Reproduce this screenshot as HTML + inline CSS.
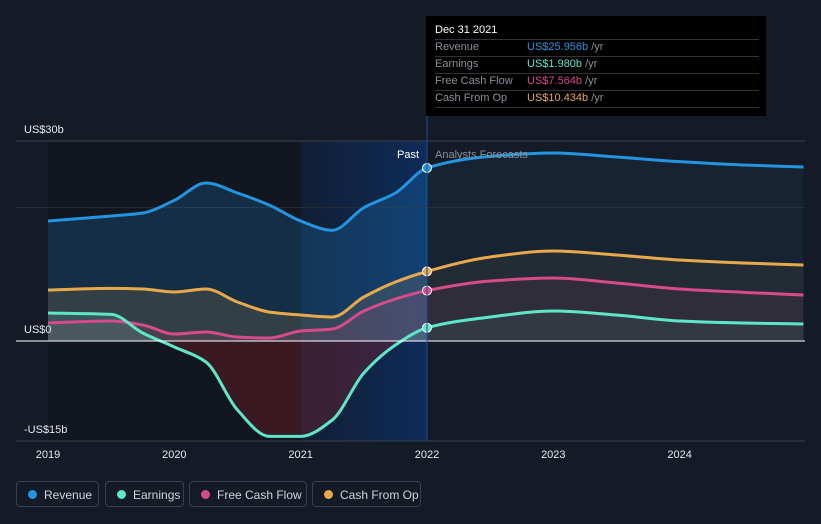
<!DOCTYPE html>
<html><head><meta charset="utf-8"><style>
body{margin:0;background:#151b26;font-family:"Liberation Sans",sans-serif;}
#wrap{position:relative;width:821px;height:524px;overflow:hidden;background:#151b26;}
.leg{position:absolute;top:481px;height:26px;border:1px solid #3a414d;border-radius:4px;color:#d0d4da;font-size:12px;line-height:26px;box-sizing:border-box;padding-left:27px;}
.leg i{position:absolute;left:11px;top:8px;width:9px;height:9px;border-radius:50%;}
#tip{position:absolute;left:426px;top:16px;width:340px;height:100px;background:#000;}
#tip div{position:absolute;left:9px;width:324px;font-size:11px;color:#8a9099;height:17px;line-height:17px;border-bottom:1px solid #333;}
#tip span{position:absolute;left:92px;}
</style></head><body>
<div id="wrap">
<svg id="svg" width="821" height="524" style="position:absolute;left:0;top:0">
<defs>
<linearGradient id="hl" x1="0" x2="1" y1="0" y2="0"><stop offset="0" stop-color="#0e2240" stop-opacity="0.6"/><stop offset="1" stop-color="#0d2d5e" stop-opacity="0.95"/></linearGradient>
<clipPath id="past"><rect x="0" y="0" width="427" height="524"/></clipPath>
<clipPath id="fut"><rect x="427" y="0" width="400" height="524"/></clipPath>
<clipPath id="pastPos"><rect x="0" y="0" width="427" height="341"/></clipPath>
<clipPath id="pastNeg"><rect x="0" y="341" width="427" height="200"/></clipPath>
</defs>
<rect x="48" y="141" width="253" height="300" fill="#11161f"/>
<rect x="301" y="141" width="126" height="300" fill="url(#hl)"/>
<g id="grid"></g>
<g id="areas"></g>
<g id="lines"></g>
<g id="dots"></g>
<g id="axis"></g>
</svg>
<div id="tip">
<div style="top:6px;color:#fff;font-size:11px;border-bottom:1px solid #333">Dec 31 2021</div>
<div style="top:23px">Revenue<span><b style="font-weight:normal;color:#2394df">US$25.956b</b> /yr</span></div>
<div style="top:40px">Earnings<span><b style="font-weight:normal;color:#5ee6c8">US$1.980b</b> /yr</span></div>
<div style="top:57px">Free Cash Flow<span><b style="font-weight:normal;color:#d64b8a">US$7.564b</b> /yr</span></div>
<div style="top:74px">Cash From Op<span><b style="font-weight:normal;color:#e8a94d">US$10.434b</b> /yr</span></div>
</div>
<div class="leg" style="left:16px;width:83px"><i style="background:#2394df"></i>Revenue</div>
<div class="leg" style="left:105px;width:79px"><i style="background:#5ee6c8"></i>Earnings</div>
<div class="leg" style="left:189px;width:118px"><i style="background:#d64b8a"></i>Free Cash Flow</div>
<div class="leg" style="left:312px;width:109px"><i style="background:#e8a94d"></i>Cash From Op</div>
</div>
<script>
const years=[2019,2019.5,2019.75,2020,2020.25,2020.5,2020.75,2021,2021.25,2021.5,2021.75,2022,2022.5,2023,2023.5,2024,2024.5,2024.98];
const revenue=[18.0,18.75,19.2,21.1,23.7,22.2,20.4,18.0,16.6,20.0,22.2,25.956,27.7,28.2,27.6,26.9,26.4,26.1];
const cashFromOp=[7.65,7.9,7.8,7.35,7.8,5.85,4.35,3.9,3.6,6.6,8.85,10.434,12.6,13.5,12.9,12.15,11.7,11.4];
const freeCashFlow=[2.7,3.0,2.4,1.05,1.35,0.6,0.45,1.5,1.8,4.5,6.3,7.564,9.0,9.45,8.7,7.8,7.3,6.9];
const earnings=[4.2,4.0,1.2,-0.9,-3.15,-10.35,-14.3,-14.3,-11.85,-4.8,-0.6,1.98,3.6,4.5,3.9,3.0,2.7,2.55];
const yTicks=[30,0,-15];
const yTickLabels=["US$30b","US$0","-US$15b"];
const xTicks=[2019,2020,2021,2022,2023,2024];
const X=t=>48+(t-2019)*126.33, Y=v=>341-v*6.667;
const NS="http://www.w3.org/2000/svg";
function mk(tag,at,parent){const e=document.createElementNS(NS,tag);for(const k in at)e.setAttribute(k,at[k]);document.getElementById(parent).appendChild(e);return e;}
function path(vals){const p=years.map((t,i)=>[X(t),Y(vals[i])]);const n=p.length;
const dx=[],s=[];for(let i=0;i<n-1;i++){dx[i]=p[i+1][0]-p[i][0];s[i]=(p[i+1][1]-p[i][1])/dx[i];}
const m=[s[0]];for(let i=1;i<n-1;i++){if(s[i-1]*s[i]<=0)m[i]=0;else{m[i]=3*(dx[i-1]+dx[i])/((2*dx[i]+dx[i-1])/s[i-1]+(dx[i]+2*dx[i-1])/s[i]);}}m[n-1]=s[n-2];
let d="M"+p[0][0]+","+p[0][1];
for(let i=0;i<n-1;i++){const h=dx[i]/3;d+=` C${p[i][0]+h},${p[i][1]+m[i]*h} ${p[i+1][0]-h},${p[i+1][1]-m[i+1]*h} ${p[i+1][0]},${p[i+1][1]}`;}return d;}
[30,20].forEach(v=>{const l=mk("line",{x1:16,x2:805,y1:Y(v),y2:Y(v),stroke:v==30?"#3a414d":"#262d38"},"grid");

});
const series=[["revenue",revenue,"#2394df"],["cash-from-op",cashFromOp,"#e8a94d"],["free-cash-flow",freeCashFlow,"#d64b8a"],["earnings",earnings,"#5ee6c8"]];
const ai=years.indexOf(2022);
series.forEach(([n,v,c])=>{const d=path(v);const close=` L${X(years[years.length-1])},${Y(0)} L${X(years[0])},${Y(0)} Z`;
const ap=mk("path",{d:d+close,fill:c,"fill-opacity":n=="revenue"?0.2:0.14,"clip-path":"url(#pastPos)"},"areas");


const an=mk("path",{d:d+close,fill:"#a0202c","fill-opacity":0.3,"clip-path":"url(#pastNeg)"},"areas");


const af=mk("path",{d:d+close,fill:c,"fill-opacity":0.07,"clip-path":"url(#fut)"},"areas");


const ln=mk("path",{d:d,fill:"none",stroke:c,"stroke-width":3},"lines");


const dt=mk("circle",{cx:X(years[ai]),cy:Y(v[ai]),r:4.5,fill:c,stroke:"#fff","stroke-width":1},"dots");

});
const zl=mk("line",{x1:16,x2:805,y1:Y(0),y2:Y(0),stroke:"#fff","stroke-width":1},"axis");


const xl=mk("line",{x1:16,x2:805,y1:441,y2:441,stroke:"#3a414d"},"axis");


yTicks.forEach((v,i)=>{const t=mk("text",{x:24,y:Y(v)-8,fill:"#e6e8eb","font-size":11},"axis");t.textContent=yTickLabels[i];

});
xTicks.forEach(v=>{const t=mk("text",{x:X(v),y:458,fill:"#e6e8eb","font-size":11,"text-anchor":"middle"},"axis");t.textContent=v;

});
const dv=mk("line",{x1:427,x2:427,y1:116,y2:441,stroke:"#1f4f8f"},"axis");


let t1=mk("text",{x:419,y:158,fill:"#fff","font-size":11,"text-anchor":"end"},"axis");t1.textContent="Past";


let t2=mk("text",{x:435,y:158,fill:"#8a9099","font-size":11},"axis");t2.textContent="Analysts Forecasts";


</script>
</body></html>
